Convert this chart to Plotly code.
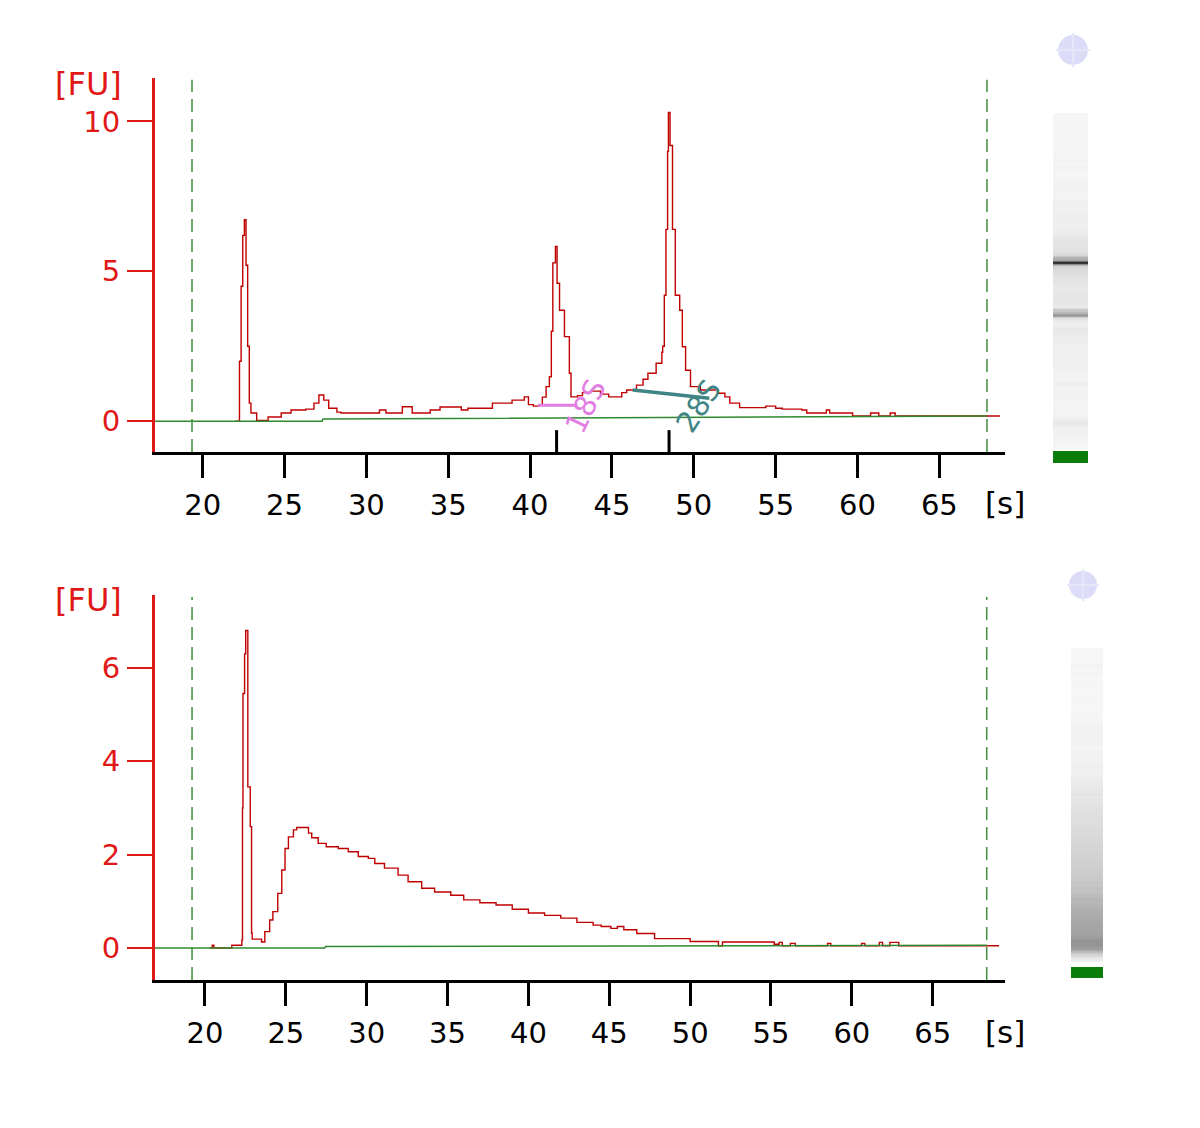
import plotly.graph_objects as go

# ---------------- data ----------------
# Top electropherogram (time [s], fluorescence [FU]) - step trace
top_t = [22.0, 22.25, 22.35, 22.45, 22.55, 22.65, 22.75, 22.85, 22.95, 23.3,
         24.0, 24.8, 25.4, 26.3, 26.8, 27.1, 27.4, 27.7, 28.2, 28.45,
         30.8, 31.2, 32.2, 32.8, 33.9, 34.5, 35.8, 36.2, 37.7, 38.9,
         39.65, 39.9, 40.2, 40.57, 40.75, 40.98, 41.18, 41.3, 41.39, 41.55,
         41.65, 41.8, 42.1, 42.4, 42.5, 42.9, 43.2, 43.7, 44.3, 44.8,
         45.6, 45.9, 46.5, 46.9, 47.2, 47.7, 48.05, 48.1, 48.2, 48.3,
         48.4, 48.45, 48.55, 48.7, 48.87, 49.14, 49.3, 49.5, 49.8, 50.4,
         51.5, 51.9, 52.2, 52.8, 54.4, 55.0, 55.4, 56.6, 56.9, 58.1,
         58.3, 59.7, 60.8, 61.3, 62.0, 62.3, 68.7]
top_v = [0.0, 2.0, 4.5, 6.2, 6.72, 5.2, 2.5, 0.6, 0.27, 0.02,
         0.14, 0.27, 0.37, 0.4, 0.6, 0.87, 0.7, 0.43, 0.3, 0.27,
         0.37, 0.27, 0.48, 0.27, 0.37, 0.47, 0.37, 0.43, 0.6, 0.7,
         0.81, 0.55, 0.5, 0.53, 0.8, 1.15, 1.48, 3.0, 5.28, 5.83,
         4.6, 3.7, 2.82, 1.6, 0.81, 0.85, 0.95, 1.0, 0.9, 0.81,
         0.95, 1.04, 1.2, 1.4, 1.6, 1.93, 2.3, 2.5, 4.2, 6.4,
         9.0, 10.3, 9.2, 6.4, 4.2, 3.7, 2.48, 1.7, 1.15, 1.04,
         0.93, 0.81, 0.6, 0.45, 0.5, 0.43, 0.4, 0.37, 0.27, 0.37,
         0.27, 0.17, 0.27, 0.17, 0.27, 0.17, 0.17]
top_base_t = [17.09, 27.3, 27.35, 67.9]
top_base_v = [0.0, 0.0, 0.07, 0.17]

# Bottom electropherogram
bot_t = [20.3, 20.45, 20.55, 21.66, 22.1, 22.28, 22.32, 22.35, 22.45, 22.52,
         22.65, 22.8, 22.88, 22.92, 23.5, 23.7, 24.0, 24.2, 24.5, 24.75,
         24.95, 25.16, 25.47, 25.67, 26.4, 26.6, 27.0, 27.5, 28.24, 28.86,
         29.48, 30.1, 30.5, 31.1, 31.94, 32.56, 33.4, 34.2, 35.2, 36.0,
         37.0, 38.0, 39.0, 40.0, 41.0, 42.0, 43.0, 44.0, 44.5, 45.1,
         45.5, 45.9, 46.7, 47.8, 50.0, 51.75, 52.0, 55.2, 55.5, 55.7,
         56.2, 56.5, 58.5, 58.7, 60.6, 60.8, 61.7, 61.9, 62.35, 62.9, 69.1]
bot_v = [0.0, 0.06, 0.0, 0.06, 0.06, 0.17, 3.0, 5.45, 6.3, 6.8,
         3.45, 2.6, 0.32, 0.19, 0.13, 0.35, 0.6, 0.78, 1.17, 1.67,
         2.13, 2.38, 2.53, 2.58, 2.46, 2.36, 2.24, 2.17, 2.13, 2.06,
         1.96, 1.92, 1.81, 1.71, 1.56, 1.42, 1.28, 1.2, 1.13, 1.03,
         0.97, 0.92, 0.83, 0.75, 0.7, 0.64, 0.55, 0.49, 0.46, 0.42,
         0.46, 0.39, 0.31, 0.2, 0.14, 0.05, 0.13, 0.08, 0.12, 0.05,
         0.1, 0.05, 0.1, 0.05, 0.1, 0.05, 0.12, 0.05, 0.12, 0.05, 0.05]
bot_base_t = [16.91, 27.4, 27.45, 68.34]
bot_base_v = [0.0, 0.0, 0.03, 0.06]

x_ticks = [20, 25, 30, 35, 40, 45, 50, 55, 60, 65]
top_y_ticks = [0, 5, 10]
bot_y_ticks = [0, 2, 4, 6]

# peak annotations
peaks_18S = {"name": "18S", "t": 41.62, "t0": 40.47, "t1": 42.9, "v0": 0.53, "v1": 0.53}
peaks_28S = {"name": "28S", "t": 48.49, "t0": 46.27, "t1": 50.95, "v0": 1.04, "v1": 0.76}

# ---------------- figure ----------------
# page body has an 8px margin: map reference pixel positions into figure paper coords
OFF = 8
W, H = 1184, 1112
def px(x):
    return (x - OFF) / W
def py(y):
    return 1 - (y - OFF) / H

RED = "#e01818"
TRACE = "#c00000"
GREEN = "#2f8a2f"
FONT = "DejaVu Sans"

fig = go.Figure()

fig.add_trace(go.Scatter(x=top_t, y=top_v, mode="lines", line=dict(color=TRACE, width=1.4, shape="hv"),
                         xaxis="x", yaxis="y", showlegend=False, hoverinfo="skip"))
fig.add_trace(go.Scatter(x=top_base_t, y=top_base_v, mode="lines", line=dict(color=GREEN, width=1.5),
                         xaxis="x", yaxis="y", showlegend=False, hoverinfo="skip"))
fig.add_trace(go.Scatter(x=bot_t, y=bot_v, mode="lines", line=dict(color=TRACE, width=1.4, shape="hv"),
                         xaxis="x2", yaxis="y2", showlegend=False, hoverinfo="skip"))
fig.add_trace(go.Scatter(x=bot_base_t, y=bot_base_v, mode="lines", line=dict(color=GREEN, width=1.5),
                         xaxis="x2", yaxis="y2", showlegend=False, hoverinfo="skip"))

# gel lanes drawn from the same data
gel_scale = [[0, "#f8f8f8"], [0.03, "#f2f2f2"], [0.1, "#e4e4e4"], [0.25, "#cccccc"],
             [0.55, "#969696"], [0.85, "#404040"], [1, "#202020"]]
fig.add_trace(go.Heatmap(x=[0, 1], y=top_t, z=[[v] for v in top_v[:-1]], colorscale=gel_scale,
                         zmin=0, zmax=max(top_v), showscale=False, hoverinfo="skip",
                         xaxis="x3", yaxis="y3"))
fig.add_trace(go.Heatmap(x=[0, 1], y=bot_t, z=[[v] for v in bot_v[:-1]], colorscale=gel_scale,
                         zmin=0, zmax=max(bot_v) * 0.68, showscale=False, hoverinfo="skip",
                         xaxis="x4", yaxis="y4"))

axis_common = dict(showgrid=False, zeroline=False, showline=True, ticks="outside", mirror=False)
fig.update_layout(
    width=W, height=H, autosize=False,
    margin=dict(l=0, r=0, t=0, b=0),
    paper_bgcolor="white", plot_bgcolor="rgba(0,0,0,0)",
    xaxis=dict(domain=[px(155), px(1005)], range=[17.09, 69.01], anchor="y",
               linecolor="black", linewidth=3, tickcolor="black", tickwidth=3, ticklen=23,
               tickvals=x_ticks, ticklabelstandoff=2,
               tickfont=dict(family=FONT, size=29, color="black"), **axis_common),
    yaxis=dict(domain=[py(452), py(78)], range=[-1.03, 11.45], anchor="x",
               linecolor=RED, linewidth=3, tickcolor=RED, tickwidth=2, ticklen=25,
               tickvals=top_y_ticks, ticklabelstandoff=1,
               tickfont=dict(family=FONT, size=29, color=RED), **axis_common),
    xaxis2=dict(domain=[px(155), px(1005)], range=[16.91, 69.47], anchor="y2",
                linecolor="black", linewidth=3, tickcolor="black", tickwidth=3, ticklen=23,
                tickvals=x_ticks, ticklabelstandoff=2,
                tickfont=dict(family=FONT, size=29, color="black"), **axis_common),
    yaxis2=dict(domain=[py(980), py(595)], range=[-0.685, 7.56], anchor="x2",
                linecolor=RED, linewidth=3, tickcolor=RED, tickwidth=2, ticklen=25,
                tickvals=bot_y_ticks, ticklabelstandoff=1,
                tickfont=dict(family=FONT, size=29, color=RED), **axis_common),
    xaxis3=dict(domain=[px(1053), px(1088)], range=[0, 1], visible=False, anchor="y3"),
    yaxis3=dict(domain=[py(450), py(113)], range=[23.7, 68.4], visible=False, anchor="x3"),
    xaxis4=dict(domain=[px(1071), px(1103)], range=[0, 1], visible=False, anchor="y4"),
    yaxis4=dict(domain=[py(962), py(648)], range=[23.5, 65.1], visible=False, anchor="x4"),
)

shapes = []
for xr, yr, xs in (("x", "y domain", (19.35, 67.91)), ("x2", "y2 domain", (19.2, 68.34))):
    for xv in xs:
        shapes.append(dict(type="line", xref=xr, yref=yr, x0=xv, x1=xv, y0=0, y1=0.995,
                           line=dict(color="#3f8f3f", width=1.5, dash="13px,7px")))
for pk in (peaks_18S, peaks_28S):
    shapes.append(dict(type="line", xref="x", yref="y", x0=pk["t"], x1=pk["t"], y0=-0.3, y1=-1.03,
                       line=dict(color="black", width=3)))
shapes.append(dict(type="line", xref="x", yref="y", x0=peaks_18S["t0"], x1=peaks_18S["t1"],
                   y0=peaks_18S["v0"], y1=peaks_18S["v1"], line=dict(color="#e27ee2", width=3)))
shapes.append(dict(type="line", xref="x", yref="y", x0=peaks_28S["t0"], x1=peaks_28S["t1"],
                   y0=peaks_28S["v0"], y1=peaks_28S["v1"], line=dict(color="#3f8585", width=3.5)))
shapes.append(dict(type="rect", xref="paper", yref="paper", x0=px(1053), x1=px(1088), y0=py(463), y1=py(451),
                   fillcolor="#0b7d0b", line=dict(width=0)))
shapes.append(dict(type="rect", xref="paper", yref="paper", x0=px(1071), x1=px(1103), y0=py(978), y1=py(967),
                   fillcolor="#0b7d0b", line=dict(width=0)))
for cx, cy, r in ((1073, 50, 15), (1083, 585, 14)):
    shapes.append(dict(type="circle", xref="paper", yref="paper", x0=px(cx - r), x1=px(cx + r),
                       y0=py(cy + r), y1=py(cy - r), fillcolor="#dcdcf8", line=dict(width=0)))
    shapes.append(dict(type="rect", xref="paper", yref="paper", x0=px(cx - 1), x1=px(cx + 1),
                       y0=py(cy + r + 2), y1=py(cy - r - 2), fillcolor="#e6e6f8", line=dict(width=0)))
    shapes.append(dict(type="rect", xref="paper", yref="paper", x0=px(cx - r - 2), x1=px(cx + r + 2),
                       y0=py(cy + 1), y1=py(cy - 1), fillcolor="#e6e6f8", line=dict(width=0)))
fig.update_layout(shapes=shapes)

ann = []
for y in (84, 600):
    ann.append(dict(text="[FU]", xref="paper", yref="paper", x=px(88), y=py(y), showarrow=False,
                    xanchor="center", yanchor="middle", font=dict(family=FONT, size=32, color=RED)))
for y in (503, 1032):
    ann.append(dict(text="[s]", xref="paper", yref="paper", x=px(1005), y=py(y), showarrow=False,
                    xanchor="center", yanchor="middle", font=dict(family=FONT, size=31, color="black")))
ann.append(dict(text="18S", xref="x", yref="y", x=43.4, y=0.5, showarrow=False, textangle=-64,
                font=dict(family=FONT, size=29, color="#e27ee2")))
ann.append(dict(text="28S", xref="x", yref="y", x=50.3, y=0.5, showarrow=False, textangle=-57,
                font=dict(family=FONT, size=29, color="#3f8585")))
fig.update_layout(annotations=ann)

fig.write_html("out.html")
